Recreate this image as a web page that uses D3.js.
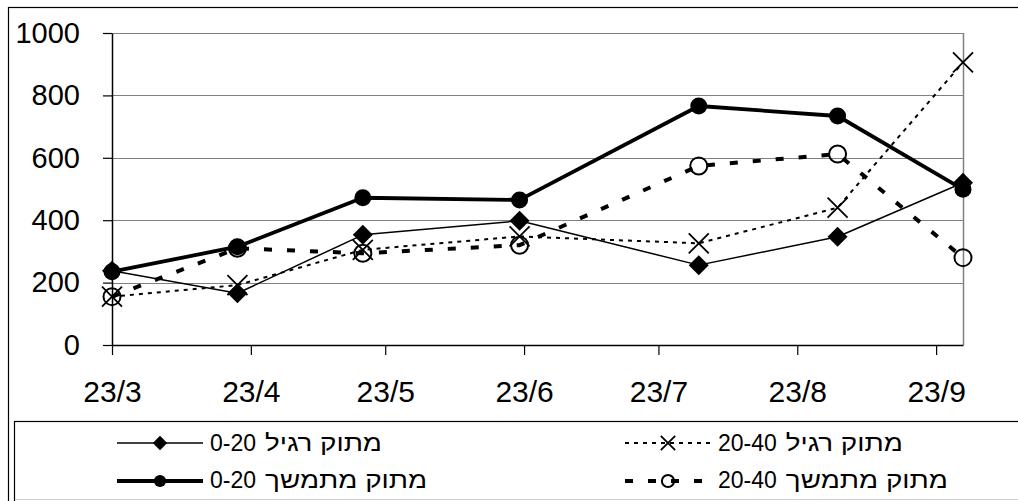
<!DOCTYPE html>
<html>
<head>
<meta charset="utf-8">
<script src="https://cdn.jsdelivr.net/npm/d3@7"></script>
<style>
  body { margin: 0; background: #fff; }
  svg { display: block; font-family: "Liberation Sans", Arial, "DejaVu Sans", sans-serif; }
</style>
</head>
<body>
<svg id="chart" width="1018" height="501"></svg>
<script>
// Sampling dates (day/month)
const sampleDates = ["2007-03-23", "2007-04-20", "2007-05-18", "2007-06-22", "2007-08-01", "2007-09-01", "2007-09-29"];
// Monthly axis ticks and their labels
const tickDates = ["2007-03-23", "2007-04-23", "2007-05-23", "2007-06-23", "2007-07-23", "2007-08-23", "2007-09-23"];
const tickLabels = ["23/3", "23/4", "23/5", "23/6", "23/7", "23/8", "23/9"];
const yTicks = [0, 200, 400, 600, 800, 1000];

// Series names (legend order): sweetener type and depth range
const seriesTypes = ["מתוק רגיל", "מתוק רגיל", "מתוק מתמשך", "מתוק מתמשך"];
const seriesRanges = ["0-20", "20-40", "0-20", "20-40"];
// Series values
const regular0to20 = [238, 166, 353, 398, 256, 347, 520];
const regular20to40 = [155, 192, 305, 348, 326, 440, 906];
const extended0to20 = [235, 315, 472, 465, 766, 734, 499];
const extended20to40 = [155, 310, 294, 320, 574, 612, 280];

const parse = d3.timeParse("%Y-%m-%d");
const dates = sampleDates.map(parse);
const ticks = tickDates.map(parse);

const svg = d3.select("#chart");

// Outer chart frame
svg.append("rect")
  .attr("x", 8.5).attr("y", 7.5).attr("width", 1100).attr("height", 600)
  .attr("fill", "#fff").attr("stroke", "#000").attr("stroke-width", 1.2);

const x = d3.scaleTime().domain([dates[0], dates[dates.length - 1]]).range([112, 963]);
const y = d3.scaleLinear().domain([0, 1000]).range([345, 33]);

// Horizontal gridlines
svg.append("g").selectAll("line")
  .data(yTicks.filter(v => v > 0))
  .join("line")
  .attr("x1", x.range()[0]).attr("x2", x.range()[1])
  .attr("y1", d => Math.round(y(d)) + 0.5).attr("y2", d => Math.round(y(d)) + 0.5)
  .attr("stroke", "#808080").attr("stroke-width", 1);

// Right border of plot area
svg.append("line")
  .attr("x1", x.range()[1] + 0.5).attr("x2", x.range()[1] + 0.5)
  .attr("y1", y(1000)).attr("y2", y(0))
  .attr("stroke", "#808080").attr("stroke-width", 1.5);

// Y axis
const yAxis = svg.append("g")
  .attr("transform", `translate(${x.range()[0]},0)`)
  .call(d3.axisLeft(y).tickValues(yTicks).tickFormat(d3.format("d"))
    .tickSize(9).tickPadding(23).tickSizeOuter(0));
// X axis
const xAxis = svg.append("g")
  .attr("transform", `translate(0,${y(0)})`)
  .call(d3.axisBottom(x).tickValues(ticks).tickFormat((d, i) => tickLabels[i])
    .tickSize(10).tickPadding(26).tickSizeOuter(0));

[yAxis, xAxis].forEach(g => {
  g.selectAll(".domain").attr("stroke", "#000").attr("stroke-width", 1.5);
  g.selectAll(".tick line").attr("stroke", "#000").attr("stroke-width", 1.2);
  g.selectAll(".tick text").attr("fill", "#000")
    .style("font-family", "\"Liberation Sans\", Arial, sans-serif");
});
yAxis.selectAll(".tick text").style("font-size", "29px");
xAxis.selectAll(".tick text").style("font-size", "30px");

// Series drawing styles
const seriesValues = [regular0to20, regular20to40, extended0to20, extended20to40];
const styles = [
  { width: 1.5, dash: null, marker: "diamond" },
  { width: 2, dash: "4,5", marker: "x" },
  { width: 3.8, dash: null, marker: "dot" },
  { width: 4, dash: "8,15", marker: "ring" }
];

function drawMarker(g, type, cx, cy, s) {
  if (type === "diamond") {
    const h = 10 * s;
    g.append("path")
      .attr("d", `M${cx},${cy - h}L${cx + h},${cy}L${cx},${cy + h}L${cx - h},${cy}Z`)
      .attr("fill", "#000");
  } else if (type === "x") {
    const h = 10 * s;
    g.append("path")
      .attr("d", `M${cx - h},${cy - h}L${cx + h},${cy + h}M${cx - h},${cy + h}L${cx + h},${cy - h}`)
      .attr("stroke", "#000").attr("stroke-width", 1.8).attr("fill", "none");
  } else if (type === "dot") {
    g.append("circle").attr("cx", cx).attr("cy", cy).attr("r", 8.5 * s).attr("fill", "#000");
  } else if (type === "ring") {
    g.append("circle").attr("cx", cx).attr("cy", cy).attr("r", 8.5 * s)
      .attr("fill", "none").attr("stroke", "#000").attr("stroke-width", 2);
  }
}

const line = d3.line().x((d, i) => x(dates[i])).y(d => y(d));

seriesValues.forEach((vals, si) => {
  const st = styles[si];
  const g = svg.append("g");
  g.append("path")
    .attr("d", line(vals))
    .attr("fill", "none").attr("stroke", "#000")
    .attr("stroke-width", st.width)
    .attr("stroke-dasharray", st.dash)
    .attr("stroke-linejoin", "round");
  vals.forEach((v, i) => drawMarker(g, st.marker, x(dates[i]), y(v), 1));
});

// Legend
const legend = svg.append("g");
legend.append("rect")
  .attr("x", 14.5).attr("y", 421.5).attr("width", 1100).attr("height", 100)
  .attr("fill", "#fff").attr("stroke", "#000").attr("stroke-width", 1.2);
legend.append("line")
  .attr("x1", 15).attr("x2", 1018).attr("y1", 499.5).attr("y2", 499.5)
  .attr("stroke", "#d0d0d0").attr("stroke-width", 1);

const legendSlots = [
  { lx: 117, row: 0 }, { lx: 625, row: 0 },
  { lx: 117, row: 1 }, { lx: 625, row: 1 }
];
const rowMarkerY = [443, 481];
const rowTextY = [451, 488];
const hebrewStretch = 1.21;

seriesTypes.forEach((type, si) => {
  const st = styles[si];
  const slot = legendSlots[si];
  const my = rowMarkerY[slot.row];
  const g = legend.append("g");
  g.append("line")
    .attr("x1", slot.lx).attr("x2", slot.lx + 86)
    .attr("y1", my).attr("y2", my)
    .attr("stroke", "#000").attr("stroke-width", st.width)
    .attr("stroke-dasharray", st.dash);
  drawMarker(g, st.marker, slot.lx + 43, my, 0.72);
  // Label reads right-to-left: depth range on the left, type to its right
  const tx = slot.lx + 93;
  const rangeText = g.append("text")
    .attr("x", tx).attr("y", rowTextY[slot.row])
    .attr("fill", "#000").style("font-size", "23px")
    .text(seriesRanges[si]);
  const rw = rangeText.node().getComputedTextLength();
  const typeText = g.append("text")
    .attr("x", tx + rw + 9).attr("y", rowTextY[slot.row])
    .attr("fill", "#000").style("font-size", "23px")
    .attr("direction", "rtl").attr("unicode-bidi", "embed")
    .attr("text-anchor", "end")
    .text(type);
  const tw = typeText.node().getComputedTextLength();
  typeText.attr("textLength", tw * hebrewStretch).attr("lengthAdjust", "spacingAndGlyphs");
});
</script>
</body>
</html>
